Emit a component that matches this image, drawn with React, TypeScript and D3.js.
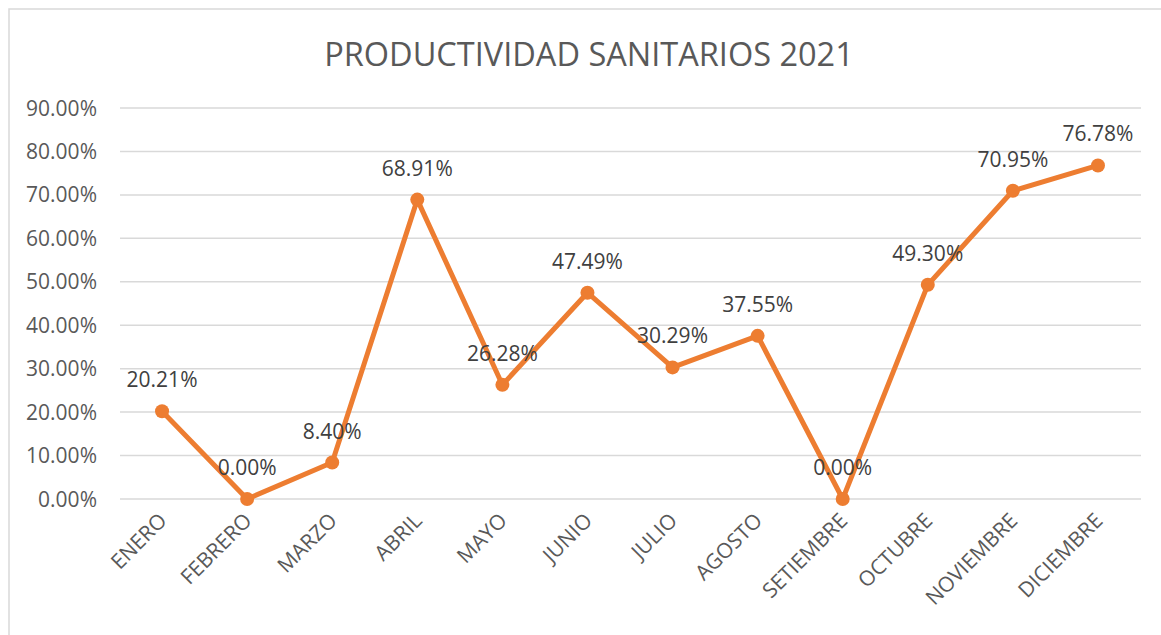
import React from "react";
import * as d3 from "d3";

const categories = ["ENERO","FEBRERO","MARZO","ABRIL","MAYO","JUNIO","JULIO","AGOSTO","SETIEMBRE","OCTUBRE","NOVIEMBRE","DICIEMBRE"];
const values = [20.21, 0.0, 8.4, 68.91, 26.28, 47.49, 30.29, 37.55, 0.0, 49.3, 70.95, 76.78];
const yTicks = [0, 10, 20, 30, 40, 50, 60, 70, 80, 90];
const title = "PRODUCTIVIDAD SANITARIOS 2021";

const W = 1161, H = 635;
const FONT = "'Open Sans', sans-serif";

export default function App() {
  const x = d3.scaleBand().domain(categories).range([119.5, 1140.5]);
  const y = d3.scaleLinear().domain([0, 90]).range([499, 108]);
  const cx = (c: string) => (x(c) as number) + x.bandwidth() / 2;
  const line = d3.line<number>().x((_, i) => cx(categories[i])).y(v => y(v));
  return (
    <svg width={W} height={H} style={{ position: "absolute", left: 0, top: 0 }}>
      <rect x={0} y={0} width={W} height={H} fill="#fff" />
      <rect x={9} y={9} width={1170} height={700} fill="#fff" stroke="#d9d9d9" strokeWidth={1.5} />
      <text x={589} y={66} textAnchor="middle" fontFamily={FONT} fontSize={32.5} fill="#595959">{title}</text>
      {yTicks.map(t => (
        <g key={t}>
          <line x1={120} x2={1141} y1={y(t)} y2={y(t)} stroke="#d9d9d9" strokeWidth={1.5} />
          <text x={97} y={y(t) + 7.5} textAnchor="end" fontFamily={FONT} fontSize={21} fill="#595959">{t.toFixed(2)}%</text>
        </g>
      ))}
      {categories.map(c => (
        <text key={c} transform={`translate(${cx(c) + 6},${522}) rotate(-45)`} textAnchor="end" fontFamily={FONT} fontSize={21} fill="#595959">{c}</text>
      ))}
      <path d={line(values) || ""} fill="none" stroke="#ed7d31" strokeWidth={5} strokeLinejoin="round" />
      {values.map((v, i) => (
        <circle key={i} cx={cx(categories[i])} cy={y(v)} r={7} fill="#ed7d31" />
      ))}
      {values.map((v, i) => (
        <text key={"l" + i} x={cx(categories[i])} y={y(v) - 24} textAnchor="middle" fontFamily={FONT} fontSize={21} fill="#404040">{v.toFixed(2)}%</text>
      ))}
    </svg>
  );
}
